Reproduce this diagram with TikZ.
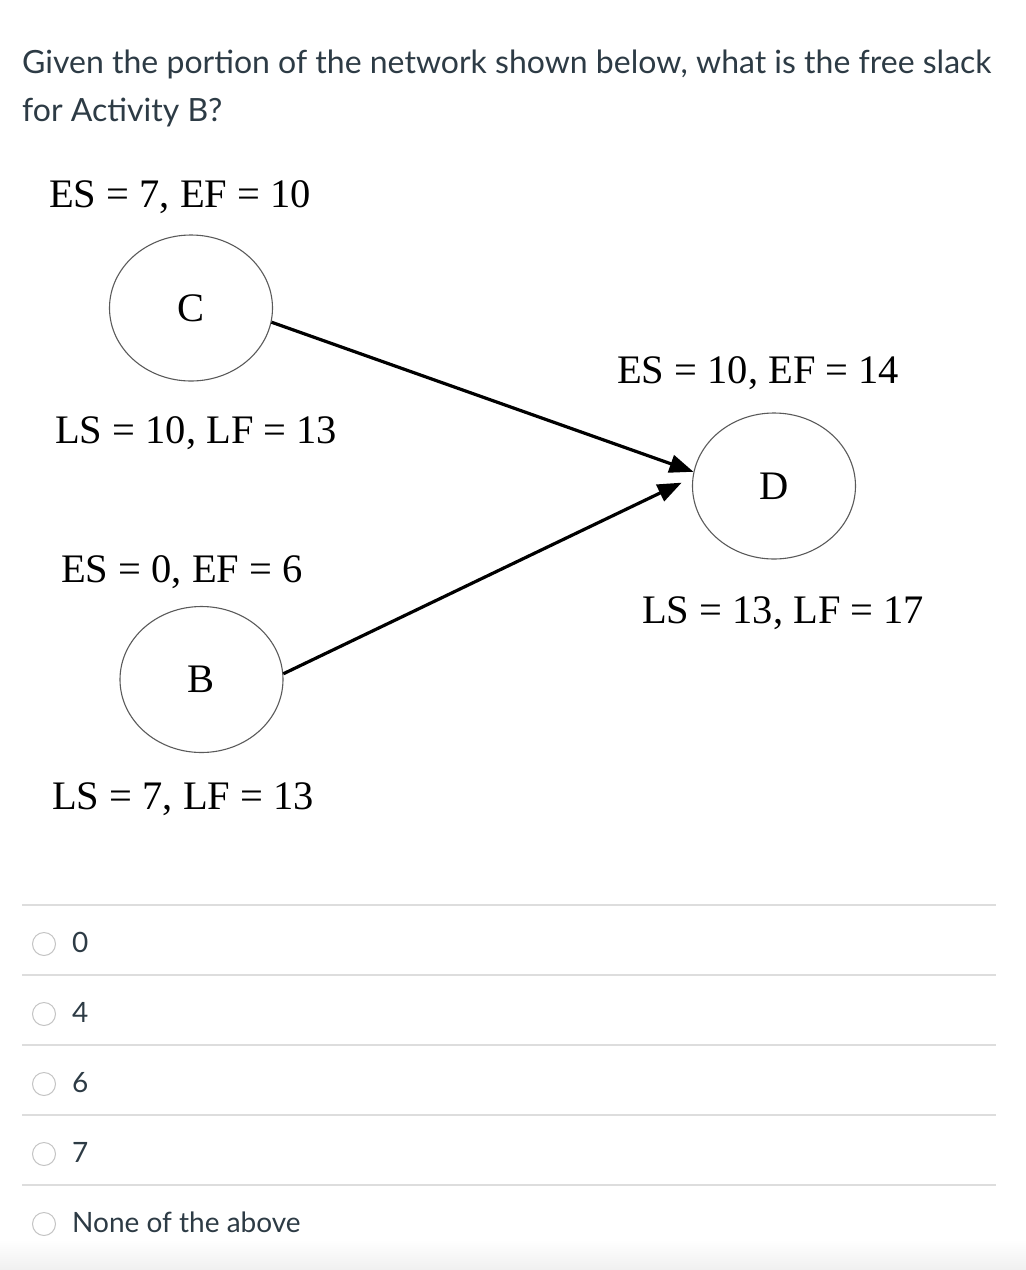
\documentclass[tikz,border=0pt]{standalone}
\usepackage{fontspec}
\setmainfont{Liberation Serif}
\newfontfamily\lato{Lato}
\usetikzlibrary{shapes.geometric,arrows.meta}
\definecolor{canvastext}{HTML}{2D3B45}
\definecolor{ruleline}{HTML}{DDDDDD}
\definecolor{radioedge}{HTML}{C4C4C4}
\definecolor{nodeedge}{HTML}{5A5A5A}
\tikzset{
  activity/.style={ellipse, draw=nodeedge, line width=1.1pt, inner sep=0pt,
    minimum width=163pt, minimum height=146pt, font=\fontsize{40.5}{48}\selectfont},
  timelabel/.style={anchor=base west, inner sep=0pt, font=\fontsize{40.5}{48}\selectfont},
  question/.style={anchor=base west, inner sep=0pt, text=canvastext, font=\lato\fontsize{32}{48}\selectfont},
  answer/.style={anchor=base west, inner sep=0pt, text=canvastext, font=\lato\fontsize{28}{36}\selectfont},
  radio/.style={circle, draw=radioedge, line width=1pt, fill=white, minimum size=23pt, inner sep=0pt},
  rule/.style={draw=ruleline, line width=1.5pt},
  depends/.style={draw, line width=3.2pt, -{Triangle[length=24pt,width=18pt]}}
}
\begin{document}
\begin{tikzpicture}[x=1pt, y=-1pt]
\useasboundingbox (0,0) rectangle (1026,1270);
\fill[top color=white, bottom color=black!6] (0,1240) rectangle (1026,1270);

\node[question] (q1) at (22,73) {Given the portion of the network shown below, what is the free slack};
\node[question] (q2) at (22,121) {for Activity B?};

% network
\node[activity] (C) at (191,308) {C};
\node[activity] (B) at (201.5,679.5) {B};
\node[activity] (D) at (774,486) {D};
\node[timelabel] (esC) at (49,207) {ES = 7, EF = 10};
\node[timelabel] (lsC) at (55,443) {LS = 10, LF = 13};
\node[timelabel] (esB) at (61,582) {ES = 0, EF = 6};
\node[timelabel] (lsB) at (52,809) {LS = 7, LF = 13};
\node[timelabel] (esD) at (617,383) {ES = 10, EF = 14};
\node[timelabel] (lsD) at (642,623) {LS = 13, LF = 17};
\draw[depends] (C.-10) -- (D.170);
\draw[depends, shorten >=12pt] (B.4) -- (D.174);

% answers
\coordinate (r1w) at (22,905); \coordinate (r1e) at (996,905);
\coordinate (r2w) at (22,975); \coordinate (r2e) at (996,975);
\coordinate (r3w) at (22,1045); \coordinate (r3e) at (996,1045);
\coordinate (r4w) at (22,1115); \coordinate (r4e) at (996,1115);
\coordinate (r5w) at (22,1185); \coordinate (r5e) at (996,1185);
\draw[rule] (r1w) -- (r1e);
\draw[rule] (r2w) -- (r2e);
\draw[rule] (r3w) -- (r3e);
\draw[rule] (r4w) -- (r4e);
\draw[rule] (r5w) -- (r5e);
\node[radio] (o1) at (44,944) {};
\node[radio] (o2) at (44,1014) {};
\node[radio] (o3) at (44,1084) {};
\node[radio] (o4) at (44,1154) {};
\node[radio] (o5) at (44,1224) {};
\node[answer] (a1) at (72,952) {0};
\node[answer] (a2) at (72,1022) {4};
\node[answer] (a3) at (72,1092) {6};
\node[answer] (a4) at (72,1162) {7};
\node[answer] (a5) at (72,1232) {None of the above};
\end{tikzpicture}
\end{document}
